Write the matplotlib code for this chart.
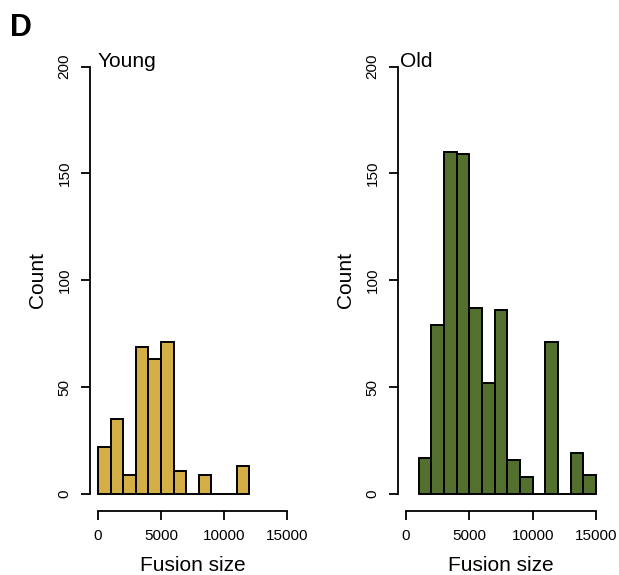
import numpy as np
import matplotlib.pyplot as plt

plt.rcParams['font.family'] = ['Liberation Sans', 'DejaVu Sans']

# bin edges and counts
young_edges = np.arange(0, 13000, 1000)
young_counts = [22, 35, 9, 69, 63, 71, 11, 0, 9, 0, 0, 13]
old_edges = np.arange(1000, 16000, 1000)
old_counts = [17, 79, 160, 159, 87, 52, 86, 16, 8, 0, 71, 0, 19, 9]

x_ticks = [0, 5000, 10000, 15000]
y_ticks = [0, 50, 100, 150, 200]

fig = plt.figure(figsize=(6.19, 5.75), dpi=100)


def panel(rect, edges, counts, color, title, title_x):
    ax = fig.add_axes(rect)
    ax.bar(edges[:-1], counts, width=np.diff(edges), align='edge',
           color=color, edgecolor='black', linewidth=1.4)
    ax.set_xlim(-600, 15600)
    ax.set_ylim(-8, 208)
    for s in ['top', 'right']:
        ax.spines[s].set_visible(False)
    ax.spines['left'].set_bounds(0, 200)
    ax.spines['bottom'].set_bounds(0, 15000)
    ax.spines['left'].set_linewidth(1.3)
    ax.spines['bottom'].set_linewidth(1.3)
    ax.set_xticks(x_ticks)
    ax.set_yticks(y_ticks)
    ax.set_yticklabels([str(v) for v in y_ticks], rotation=90, va='center')
    ax.tick_params(length=6.5, width=1.3, labelsize=11)
    ax.tick_params(axis='x', pad=6.5)
    ax.tick_params(axis='y', pad=7)
    ax.set_xlabel('Fusion size', fontsize=15, labelpad=9)
    ax.set_ylabel('Count', fontsize=15, labelpad=8)
    ax.text(title_x, 200, title, fontsize=15, ha='left', va='baseline')
    return ax


panel([0.146, 0.111, 0.330, 0.803], young_edges, young_counts, '#D4AF45', 'Young', -50)
panel([0.6436, 0.111, 0.3316, 0.803], old_edges, old_counts, '#53702E', 'Old', -480)

fig.text(10 / 619, 1 - 36 / 575, 'D', fontsize=22, fontweight='bold',
         ha='left', va='baseline')

fig.savefig('out.png', dpi=100)
